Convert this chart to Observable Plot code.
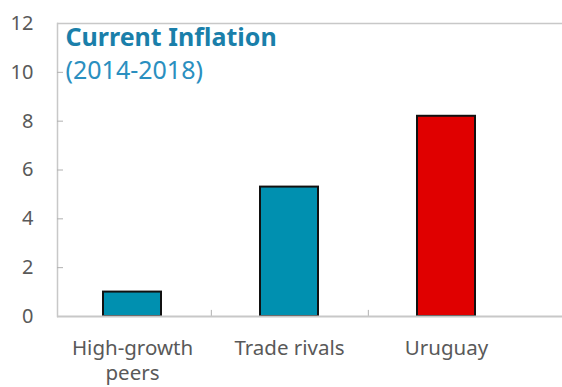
<!DOCTYPE html>
<html>
<head>
<meta charset="utf-8">
<script src="https://cdn.jsdelivr.net/npm/d3@7"></script>
<script src="https://cdn.jsdelivr.net/npm/@observablehq/plot@0.6"></script>
<style>
  html, body { margin: 0; padding: 0; background: #fff; overflow: hidden; }
  svg { display: block; max-width: none !important; width: 562px !important; }
</style>
</head>
<body>
<div id="chart"></div>
<script>
const categories = ["High-growth\npeers", "Trade rivals", "Uruguay"];
const values = [1.0, 5.3, 8.2];
const colors = ["#0090b0", "#0090b0", "#e00000"];
const yTicks = [0, 2, 4, 6, 8, 10, 12];
const titleText = "Current Inflation";
const subtitleText = "(2014-2018)";

const data = categories.map((c, i) => ({category: c, value: values[i], color: colors[i]}));

const W = 562, H = 387, mL = 57, mR = 0, mT = 23, mB = 71;
const plotW = W - mL - mR;
const xRange = [53, 526];
const step = (xRange[1] - xRange[0]) / 3;
const font = "'Noto Sans', sans-serif";

const chart = Plot.plot({
  width: W, height: H,
  marginLeft: mL, marginRight: mR, marginTop: mT, marginBottom: mB,
  style: {fontFamily: font, background: "#fff", overflow: "visible"},
  x: {domain: categories, range: xRange, paddingInner: 0.63, paddingOuter: 0.315, label: null},
  y: {domain: [0, 12], label: null},
  marks: [
    Plot.ruleY([12], {stroke: "#c8c8c8", strokeWidth: 1.5}),
    Plot.frame({anchor: "left", stroke: "#c8c8c8", strokeWidth: 1.5}),
    Plot.tickY(yTicks.slice(1, -1), {y: d => d, stroke: "#b0b0b0", insetRight: plotW - 6}),
    Plot.ruleX(categories.slice(0, -1), {x: d => d, dx: step / 2, y1: 0, y2: 0.25, stroke: "#b0b0b0"}),
    Plot.barY(data, {x: "category", y: "value", fill: "color", stroke: "#111", strokeWidth: 2}),
    Plot.ruleY([0], {stroke: "#c8c8c8", strokeWidth: 2}),
    Plot.axisY(yTicks, {tickSize: 0, tickPadding: 24, fontSize: 20, fill: "#595959", label: null}),
    Plot.axisX({tickSize: 0, tickPadding: 20, fontSize: 20.5, fill: "#595959", label: null, lineHeight: 1.25}),
    Plot.text([titleText], {frameAnchor: "top-left", text: d => d, dx: 8, dy: 5, fontSize: 25, fontWeight: "bold", fill: "#1a7faa"}),
    Plot.text([subtitleText], {frameAnchor: "top-left", text: d => d, dx: 8, dy: 38, fontSize: 25, fill: "#2a8fc0"})
  ]
});
document.getElementById("chart").appendChild(chart);
</script>
</body>
</html>
